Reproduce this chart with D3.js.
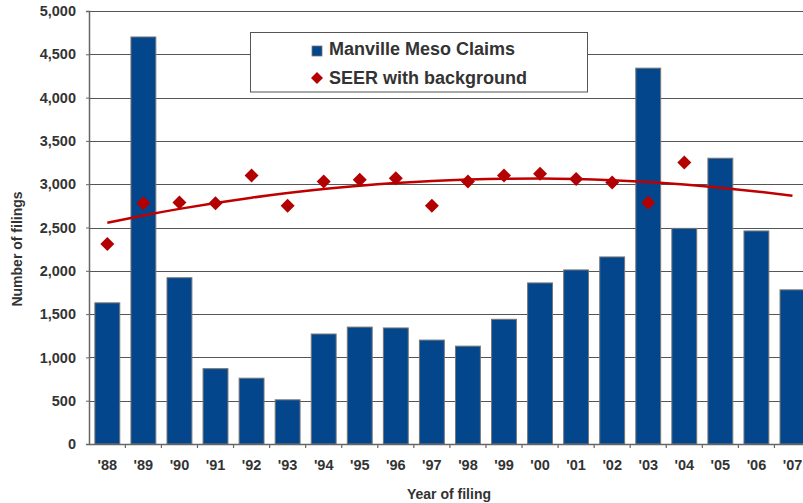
<!DOCTYPE html>
<html>
<head>
<meta charset="utf-8">
<script src="https://cdn.jsdelivr.net/npm/d3@7"></script>
<style>
  html, body { margin: 0; padding: 0; background: #fff; }
  svg { display: block; font-family: "Liberation Sans", Arial, sans-serif; }
</style>
</head>
<body>
<svg id="chart" width="803" height="503"></svg>
<script>
const years = ["'88","'89","'90","'91","'92","'93","'94","'95","'96","'97","'98","'99","'00","'01","'02","'03","'04","'05","'06","'07"];
const manvilleClaims = [1630, 4700, 1920, 870, 760, 510, 1270, 1350, 1340, 1200, 1130, 1440, 1860, 2010, 2160, 4340, 2490, 3300, 2460, 1780];
const seerYears = ["'88","'89","'90","'91","'92","'93","'94","'95","'96","'97","'98","'99","'00","'01","'02","'03","'04"];
const seerValues = [2310, 2780, 2790, 2780, 3100, 2750, 3030, 3050, 3070, 2750, 3030, 3100, 3120, 3060, 3020, 2785, 3250];
const trendValues = [2555, 2639, 2715, 2783, 2844, 2898, 2944, 2983, 3014, 3038, 3054, 3063, 3065, 3059, 3045, 3024, 2996, 2960, 2917, 2867];
const yTicks = [0, 500, 1000, 1500, 2000, 2500, 3000, 3500, 4000, 4500, 5000];

(function () {
const svg = d3.select("#chart");
const plotLeft = 89.3, plotRight = 810.5, plotTop = 11, plotBottom = 444;

const x = d3.scaleBand().domain(years).range([plotLeft, plotRight]).paddingInner(0.31).paddingOuter(0.155);
const y = d3.scaleLinear().domain([0, 5000]).range([plotBottom, plotTop]);

const blue = "#03468c", red = "#b30000", txt = "#333";
const ff = "'Liberation Sans', Arial, sans-serif";

// gridlines
svg.append("g").selectAll("line").data(yTicks.filter(d => d > 0)).join("line")
  .attr("x1", 89).attr("x2", 803)
  .attr("y1", d => Math.round(y(d)) + 0.5).attr("y2", d => Math.round(y(d)) + 0.5)
  .attr("stroke", "#555").attr("stroke-width", 1.2);

// bars
svg.append("g").selectAll("rect").data(manvilleClaims).join("rect")
  .attr("x", (d, i) => x(years[i]))
  .attr("y", d => y(d))
  .attr("width", x.bandwidth())
  .attr("height", d => y(0) - y(d))
  .attr("fill", blue)
  .attr("stroke", "#777").attr("stroke-width", 1);

// trend line
const cx = yr => x(yr) + x.bandwidth() / 2;
svg.append("path").datum(trendValues)
  .attr("d", d3.line().x((d, i) => cx(years[i])).y(d => y(d)).curve(d3.curveMonotoneX))
  .attr("fill", "none").attr("stroke", "#c00000").attr("stroke-width", 2.5);

// diamonds
svg.append("g").selectAll("path").data(seerValues).join("path")
  .attr("transform", (d, i) => `translate(${cx(seerYears[i])},${y(d)})`)
  .attr("d", "M0,-7L7,0L0,7L-7,0Z")
  .attr("fill", red);

// axes
const yAxis = d3.axisLeft(y).tickValues(yTicks).tickSize(3).tickFormat(d3.format(","));
const ya = svg.append("g").attr("transform", "translate(89,0)").call(yAxis);
ya.select(".domain").attr("stroke", "#666").attr("stroke-width", 1.5);
ya.selectAll(".tick line").attr("stroke", "#666");
ya.selectAll(".tick text").attr("x", -13).attr("font-size", 14.5).attr("font-weight", "bold").attr("fill", txt)
  .attr("font-family", ff);

const xa = svg.append("g").attr("transform", `translate(0,${plotBottom})`)
  .call(d3.axisBottom(x).tickSize(0).tickPadding(16));
xa.select(".domain").attr("stroke", "#666").attr("stroke-width", 1.5);
xa.selectAll(".tick text").attr("font-size", 14.5).attr("font-weight", "bold").attr("fill", txt)
  .attr("font-family", ff);
// boundary ticks
const step = x.step();
const bounds = d3.range(1, years.length).map(i => plotLeft + i * step);
svg.append("g").selectAll("line").data(bounds).join("line")
  .attr("x1", d => d).attr("x2", d => d)
  .attr("y1", plotBottom).attr("y2", plotBottom + 4)
  .attr("stroke", "#666").attr("stroke-width", 1.2);

// axis titles
svg.append("text").attr("x", 449).attr("y", 499).attr("text-anchor", "middle")
  .attr("font-size", 14).attr("font-weight", "bold").attr("fill", txt).text("Year of filing");
svg.append("text").attr("transform", "translate(22,249) rotate(-90)").attr("text-anchor", "middle")
  .attr("font-size", 14).attr("font-weight", "bold").attr("fill", txt).text("Number of filings");

// legend
const lg = svg.append("g");
lg.append("rect").attr("x", 250.5).attr("y", 32.5).attr("width", 337).attr("height", 59.5)
  .attr("fill", "#fff").attr("stroke", "#555").attr("stroke-width", 1);
lg.append("rect").attr("x", 312).attr("y", 46).attr("width", 10).attr("height", 10)
  .attr("fill", blue).attr("stroke", "#777").attr("stroke-width", 0.8);
lg.append("text").attr("x", 329).attr("y", 55).attr("font-size", 18).attr("font-weight", "bold")
  .attr("fill", txt).text("Manville Meso Claims");
lg.append("path").attr("transform", "translate(317,78)").attr("d", "M0,-6L6,0L0,6L-6,0Z").attr("fill", red);
lg.append("text").attr("x", 329).attr("y", 83.5).attr("font-size", 18).attr("font-weight", "bold")
  .attr("fill", txt).text("SEER with background");
})();
</script>
</body>
</html>
